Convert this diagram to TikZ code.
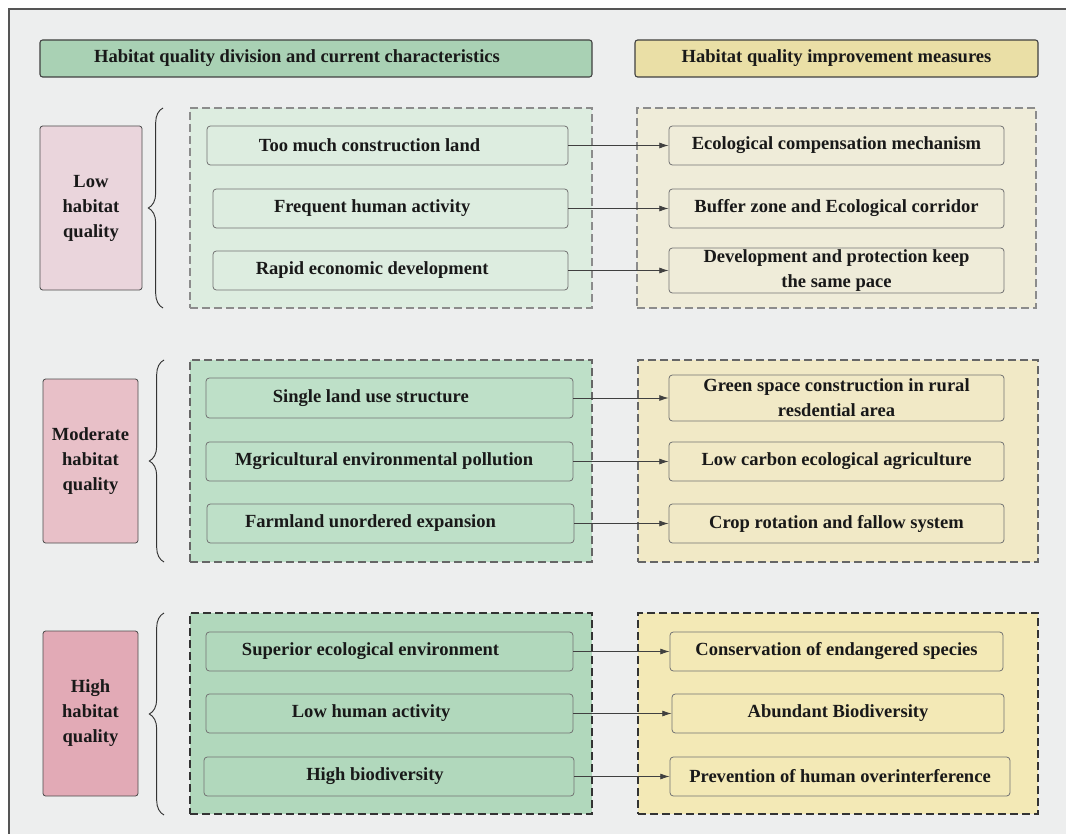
\documentclass[tikz,border=0pt]{standalone}
\usepackage{fontspec}
\setmainfont{Liberation Serif}
\usetikzlibrary{arrows.meta,decorations.pathreplacing}

\definecolor{bggray}{HTML}{EDEEEE}
\definecolor{framegray}{HTML}{555555}
\definecolor{headgreen}{HTML}{A9D1B4}
\definecolor{headyellow}{HTML}{EADFA6}
\definecolor{lowpink}{HTML}{EAD5DC}
\definecolor{modpink}{HTML}{E8C0C8}
\definecolor{highpink}{HTML}{E2AAB6}
\definecolor{lowgreen}{HTML}{DDEDE0}
\definecolor{modgreen}{HTML}{BEE0C8}
\definecolor{highgreen}{HTML}{B1D8BC}
\definecolor{lowyellow}{HTML}{EFECD9}
\definecolor{modyellow}{HTML}{F1E9C6}
\definecolor{highyellow}{HTML}{F3E9B6}

\tikzset{
  sz/.style 2 args={minimum width=#1*0.75pt, minimum height=#2*0.75pt, inner sep=0pt},
  pad/.style={execute at end node={\hspace*{#1}}},
  head/.style={draw=black!75, line width=0.8pt, rounded corners=2pt},
  zone/.style={line width=0.8pt, dash pattern=on 6pt off 3pt},
  grade/.style={draw=black!70, line width=0.6pt, rounded corners=2pt, align=center},
  item/.style={draw=black!55, line width=0.6pt, rounded corners=2.5pt},
  brace/.style={decorate, decoration={brace, amplitude=11pt}, line width=0.7pt, draw=black!80},
  link/.style={->, draw=black!75, line width=0.6pt}
}

\begin{document}
\begin{tikzpicture}[x=0.75pt, y=-0.75pt, font=\fontsize{13.9}{18.75}\selectfont\bfseries, >={Latex[length=7pt,width=4.5pt]}, text=black!90]
\useasboundingbox (0,0) rectangle (1066,834);
\clip (0,0) rectangle (1066,834);
\draw[draw=framegray, fill=bggray, line width=0.8pt] (9,9) rectangle (1080,850);

% headers
\node[head, fill=headgreen, sz={552}{37}, pad=28.5pt] (hleft) at (316,58.5) {Habitat quality division and current characteristics};
\node[head, fill=headyellow, sz={403}{37}] (hright) at (836.5,58.5) {Habitat quality improvement measures};

% low habitat quality
\node[zone, draw=black!45, fill=lowgreen, sz={402}{200}] (lowl) at (391,208) {};
\node[zone, draw=black!45, fill=lowyellow, sz={399}{200}] (lowr) at (836.5,208) {};
\node[grade, fill=lowpink, sz={102}{164}] (low) at (91,208) {Low\\habitat\\quality};
\draw[brace] (163,308) -- (163,108);
\node[item, fill=lowgreen, sz={361}{39}, pad=27pt] (low1) at (387.5,145.5) {Too much construction land};
\node[item, fill=lowgreen, sz={355}{39}, pad=27.5pt] (low2) at (390.5,208.5) {Frequent human activity};
\node[item, fill=lowgreen, sz={355}{39}, pad=27.5pt] (low3) at (390.5,270.5) {Rapid economic development};
\node[item, fill=lowyellow, sz={335}{39}] (lowm1) at (836.5,145.5) {Ecological compensation mechanism};
\node[item, fill=lowyellow, sz={335}{39}] (lowm2) at (836.5,208.5) {Buffer zone and Ecological corridor};
\node[item, fill=lowyellow, sz={335}{45}, align=center] (lowm3) at (836.5,270.5) {Development and protection keep\\the same pace};
\draw[link] (low1.east) -- (lowm1.west);
\draw[link] (low2.east) -- (lowm2.west);
\draw[link] (low3.east) -- (lowm3.west);

% moderate habitat quality
\node[zone, draw=black!60, fill=modgreen, sz={402}{202}] (modl) at (391,461) {};
\node[zone, draw=black!60, fill=modyellow, sz={400}{202}] (modr) at (838,461) {};
\node[grade, fill=modpink, sz={95}{164}] (mod) at (90.5,461) {Moderate\\habitat\\quality};
\draw[brace] (164,562) -- (164,360);
\node[item, fill=modgreen, sz={367}{40}, pad=28pt] (mod1) at (389.5,398) {Single land use structure};
\node[item, fill=modgreen, sz={367}{39}, pad=8pt] (mod2) at (389.5,461.5) {Mgricultural environmental pollution};
\node[item, fill=modgreen, sz={367}{39}, pad=30pt] (mod3) at (390.5,523.5) {Farmland unordered expansion};
\node[item, fill=modyellow, sz={335}{46}, align=center] (modm1) at (836.5,398) {Green space construction in rural\\resdential area};
\node[item, fill=modyellow, sz={335}{39}] (modm2) at (836.5,461.5) {Low carbon ecological agriculture};
\node[item, fill=modyellow, sz={335}{39}] (modm3) at (836.5,523.5) {Crop rotation and fallow system};
\draw[link] (mod1.east) -- (modm1.west);
\draw[link] (mod2.east) -- (modm2.west);
\draw[link] (mod3.east) -- (modm3.west);

% high habitat quality
\node[zone, draw=black!80, fill=highgreen, sz={402}{201}] (highl) at (391,713.5) {};
\node[zone, draw=black!80, fill=highyellow, sz={400}{201}] (highr) at (838,713.5) {};
\node[grade, fill=highpink, sz={95}{165}] (high) at (90.5,713.5) {High\\habitat\\quality};
\draw[brace] (164,815) -- (164,613);
\node[item, fill=highgreen, sz={367}{39}, pad=28.5pt] (high1) at (389.5,651.5) {Superior ecological environment};
\node[item, fill=highgreen, sz={367}{39}, pad=27.5pt] (high2) at (389.5,713.5) {Low human activity};
\node[item, fill=highgreen, sz={370}{39}, pad=21pt] (high3) at (389,776.5) {High biodiversity};
\node[item, fill=highyellow, sz={333}{39}] (highm1) at (836.5,651.5) {Conservation of endangered species};
\node[item, fill=highyellow, sz={332}{39}] (highm2) at (838,713.5) {Abundant Biodiversity};
\node[item, fill=highyellow, sz={340}{39}] (highm3) at (840,776.5) {Prevention of human overinterference};
\draw[link] (high1.east) -- (highm1.west);
\draw[link] (high2.east) -- (highm2.west);
\draw[link] (high3.east) -- (highm3.west);
\end{tikzpicture}
\end{document}
